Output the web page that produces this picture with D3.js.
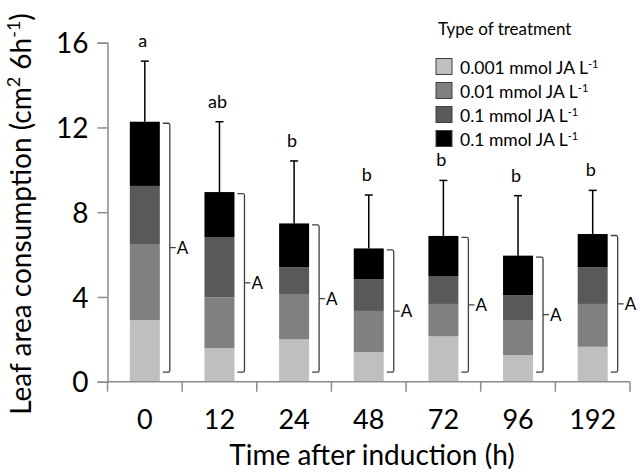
<!DOCTYPE html>
<html>
<head>
<meta charset="utf-8">
<script src="https://cdn.jsdelivr.net/npm/d3@7"></script>
<style>
  body { margin: 0; background: #fff; }
  text { font-family: Lato, "Open Sans", sans-serif; fill: #000; }
</style>
</head>
<body>
<svg width="643" height="473"></svg>
<script>
// values
var times = ["0", "12", "24", "48", "72", "96", "192"];
var jaLow = [2.91, 1.58, 2.00, 1.40, 2.14, 1.25, 1.65];   // 0.001 mmol
var jaMid = [3.59, 2.40, 2.14, 1.94, 1.53, 1.66, 2.02];   // 0.01 mmol
var jaHigh = [2.74, 2.83, 1.26, 1.49, 1.32, 1.17, 1.73];  // 0.1 mmol
var jaHigh2 = [3.03, 2.14, 2.07, 1.46, 1.89, 1.87, 1.57]; // 0.1 mmol (black)
var errUp = [2.86, 3.32, 2.95, 2.52, 2.62, 2.83, 2.06];
var letters = ["a", "ab", "b", "b", "b", "b", "b"];
var groupLetter = ["A", "A", "A", "A", "A", "A", "A"];
var yTicks = [0, 4, 8, 12, 16];
var seriesNames = ["0.001 mmol JA L", "0.01 mmol JA L", "0.1 mmol JA L", "0.1 mmol JA L"];
var seriesColors = ["#bfbfbf", "#808080", "#595959", "#000000"];

var svg = d3.select("svg");
var x0 = 107.5, x1 = 630, yTop = 42.7, yBot = 381.7;

var x = d3.scaleBand().domain(times).range([x0, x1]).paddingInner(0).paddingOuter(0);
var y = d3.scaleLinear().domain([0, 16]).range([yBot, yTop]);
var barW = 30;

var rows = times.map(function(t, i) {
  return {t: t, s0: jaLow[i], s1: jaMid[i], s2: jaHigh[i], s3: jaHigh2[i]};
});
var keys = ["s0", "s1", "s2", "s3"];
var stacked = d3.stack().keys(keys)(rows);

// bars
svg.append("g").selectAll("g")
  .data(stacked)
  .enter().append("g")
  .attr("fill", function(d, i) { return seriesColors[i]; })
  .selectAll("rect")
  .data(function(d) { return d; })
  .enter().append("rect")
  .attr("x", function(d) { return x(d.data.t) + x.bandwidth() / 2 - barW / 2; })
  .attr("width", barW)
  .attr("y", function(d) { return y(d[1]); })
  .attr("height", function(d) { return y(d[0]) - y(d[1]); });

var totals = rows.map(function(r) { return r.s0 + r.s1 + r.s2 + r.s3; });

// error bars
var eb = svg.append("g").attr("stroke", "#000").attr("stroke-width", 1.5);
times.forEach(function(t, i) {
  var cx = x(t) + x.bandwidth() / 2;
  eb.append("line").attr("x1", cx).attr("x2", cx)
    .attr("y1", y(totals[i])).attr("y2", y(totals[i] + errUp[i]));
  eb.append("line").attr("x1", cx - 4).attr("x2", cx + 4)
    .attr("y1", y(totals[i] + errUp[i])).attr("y2", y(totals[i] + errUp[i]));
});

// significance letters
svg.append("g").selectAll("text")
  .data(times)
  .enter().append("text")
  .attr("x", function(d) { return x(d) + x.bandwidth() / 2 - 2; })
  .attr("y", function(d, i) { return y(totals[i] + errUp[i]) - 14; })
  .attr("text-anchor", "middle")
  .style("font-size", "18px")
  .text(function(d, i) { return letters[i]; });

// brackets with group letter
var br = svg.append("g");
times.forEach(function(t, i) {
  var bx = x(t) + x.bandwidth() / 2 + barW / 2 + 3;
  var top = y(totals[i]) + 1.5, bot = y(0.45), mid = (top + bot) / 2;
  var vx = bx + 7;
  br.append("path")
    .attr("d", "M" + bx + "," + top + " L" + (vx - 1.5) + "," + top + " Q" + vx + "," + top + " " + vx + "," + (top + 2) +
      " L" + vx + "," + (bot - 2) + " Q" + vx + "," + bot + " " + (vx - 1.5) + "," + bot + " L" + bx + "," + bot +
      " M" + vx + "," + mid + " L" + (vx + 6) + "," + mid)
    .attr("fill", "none").attr("stroke", "#404040").attr("stroke-width", 1.3);
  br.append("text").attr("x", vx + 7).attr("y", mid + 6)
    .style("font-size", "17px").text(groupLetter[i]);
});

// axes
var yAxis = svg.append("g").attr("transform", "translate(" + x0 + ",0)")
  .call(d3.axisLeft(y).tickValues(yTicks).tickSize(10).tickPadding(9).tickFormat(d3.format("d")));
yAxis.selectAll("path, line").attr("stroke", "#8c8c8c").attr("stroke-width", 1.5);
yAxis.selectAll("text").style("font-size", "28px").attr("dy", "0.36em");

var xAxis = svg.append("g").attr("transform", "translate(0," + yBot + ")")
  .call(d3.axisBottom(x).tickSize(0).tickPadding(28));
xAxis.select(".domain").attr("stroke", "#8c8c8c").attr("stroke-width", 1.5).attr("d", "M" + x0 + ",0H" + x1);
xAxis.selectAll("text").style("font-size", "27px");
svg.append("g").attr("stroke", "#8c8c8c").attr("stroke-width", 1.5)
  .selectAll("line")
  .data(times.concat(["end"]))
  .enter().append("line")
  .attr("x1", function(d) { return d === "end" ? x1 : x(d); })
  .attr("x2", function(d) { return d === "end" ? x1 : x(d); })
  .attr("y1", yBot).attr("y2", yBot + 10);

// axis titles
svg.append("text")
  .attr("x", 372).attr("y", 465)
  .attr("text-anchor", "middle")
  .style("font-size", "28px")
  .text("Time after induction (h)");

var yt = svg.append("text")
  .attr("transform", "translate(31,214) rotate(-90)")
  .attr("text-anchor", "middle")
  .style("font-size", "28px");
yt.append("tspan").text("Leaf area consumption (cm");
yt.append("tspan").attr("baseline-shift", "super").style("font-size", "18px").text("2");
yt.append("tspan").text(" 6h");
yt.append("tspan").attr("baseline-shift", "super").style("font-size", "18px").text("-1");
yt.append("tspan").text(")");

// legend
svg.append("text").attr("x", 438).attr("y", 35).style("font-size", "17px").text("Type of treatment");
var lg = svg.append("g").selectAll("g")
  .data(seriesNames)
  .enter().append("g")
  .attr("transform", function(d, i) { return "translate(436," + (58.5 + i * 24) + ")"; });
lg.append("rect").attr("width", 16).attr("height", 16)
  .attr("fill", function(d, i) { return seriesColors[i]; })
  .attr("stroke", "#404040").attr("stroke-width", 1);
var lt = lg.append("text").attr("x", 24).attr("y", 15).style("font-size", "17.5px");
lt.append("tspan").text(function(d) { return d; });
lt.append("tspan").attr("baseline-shift", "super").style("font-size", "11px").text("-1");
</script>
</body>
</html>
